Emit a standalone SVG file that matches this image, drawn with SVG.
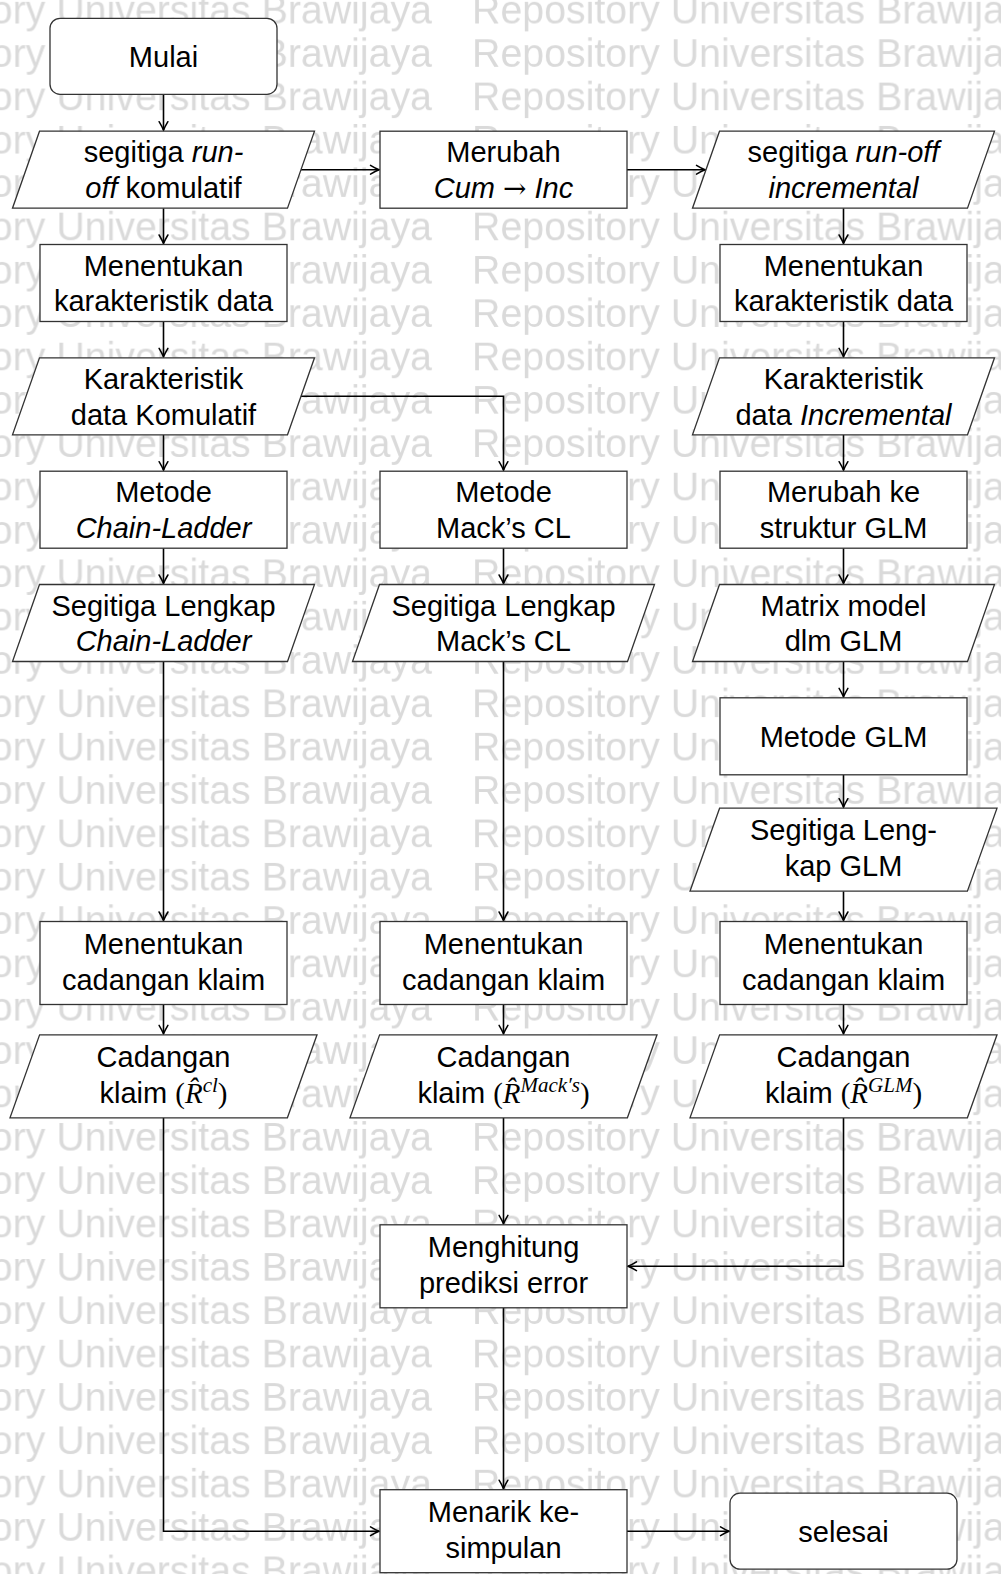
<svg xmlns="http://www.w3.org/2000/svg" width="1001" height="1574" viewBox="0 0 1001 1574">
<style>
.wm{font-family:"Liberation Sans",Arial,sans-serif;font-size:39.3px;fill:#dadada}
.t{font-family:"Liberation Sans",Arial,sans-serif;font-size:29px;fill:#000;text-anchor:middle}
.i{font-style:italic}
.m{font-family:"Liberation Serif","DejaVu Serif",serif}
.ar{font-family:"DejaVu Serif",serif;font-size:28px}
.mi{font-family:"Liberation Serif","DejaVu Serif",serif;font-style:italic}
.sup{font-size:21px}
.box{fill:#fff;stroke:#333;stroke-width:1.3}
.c{fill:none;stroke:#000;stroke-width:1.6;marker-end:url(#ah)}
</style>
<defs>
<pattern id="wm" patternUnits="userSpaceOnUse" x="-142.4" y="-9" width="614.4" height="43.35">
<text x="0" y="33" class="wm">Repository Universitas Brawijaya</text>
</pattern>
<marker id="ah" markerUnits="userSpaceOnUse" markerWidth="20" markerHeight="20" viewBox="0 0 20 20" refX="10" refY="10" orient="auto">
<path d="M1.5,5.6 Q6.5,8.6 10,10 Q6.5,11.4 1.5,14.4" fill="none" stroke="#000" stroke-width="1.5" stroke-linecap="round"/>
</marker>
</defs>
<rect width="1001" height="1574" fill="#fff"/>
<rect width="1001" height="1574" fill="url(#wm)"/>

<g id="connectors">
<path class="c" d="M163.5,94.3 V130.2"/>
<path class="c" d="M163.5,208.2 V243.5"/>
<path class="c" d="M163.5,321.5 V356.8"/>
<path class="c" d="M163.5,434.8 V470.2"/>
<path class="c" d="M163.5,548.2 V583.5"/>
<path class="c" d="M163.5,661.5 V920.5"/>
<path class="c" d="M163.5,1004.5 V1033.8"/>
<path class="c" d="M163.5,1117.8 V1531.2 H379"/>
<path class="c" d="M301,169.7 H379"/>
<path class="c" d="M627,169.7 H705"/>
<path class="c" d="M301,396.3 H503.5 V470.2"/>
<path class="c" d="M503.5,548.2 V583.5"/>
<path class="c" d="M503.5,661.5 V920.5"/>
<path class="c" d="M503.5,1004.5 V1033.8"/>
<path class="c" d="M503.5,1117.8 V1223.8"/>
<path class="c" d="M503.5,1307.8 V1488.7"/>
<path class="c" d="M627,1531.2 H729"/>
<path class="c" d="M843.5,208.2 V243.5"/>
<path class="c" d="M843.5,321.5 V356.8"/>
<path class="c" d="M843.5,434.8 V470.2"/>
<path class="c" d="M843.5,548.2 V583.5"/>
<path class="c" d="M843.5,661.5 V696.8"/>
<path class="c" d="M843.5,774.8 V807.2"/>
<path class="c" d="M843.5,891.2 V920.5"/>
<path class="c" d="M843.5,1004.5 V1033.8"/>
<path class="c" d="M843.5,1117.8 V1266.3 H628"/>
</g>

<g id="mulai"><rect class="box" x="50" y="18.3" width="227" height="76" rx="10"/><text class="t" x="163.5" y="66.8">Mulai</text></g>
<g id="c1r1"><polygon class="box" points="39.5,131.2 314.5,131.2 287.5,208.2 12.5,208.2"/><text class="t" x="163.5" y="162.2">segitiga <tspan class="i">run-</tspan></text><text class="t" x="163.5" y="197.9"><tspan class="i">off</tspan> komulatif</text></g>
<g id="c1r2"><rect class="box" x="40" y="244.5" width="247" height="77"/><text class="t" x="163.5" y="275.5">Menentukan</text><text class="t" x="163.5" y="311.2">karakteristik data</text></g>
<g id="c1r3"><polygon class="box" points="39.5,357.8 314.5,357.8 287.5,434.8 12.5,434.8"/><text class="t" x="163.5" y="388.8">Karakteristik</text><text class="t" x="163.5" y="424.5">data Komulatif</text></g>
<g id="c1r4"><rect class="box" x="40" y="471.2" width="247" height="77"/><text class="t" x="163.5" y="502.2">Metode</text><text class="t" x="163.5" y="537.9"><tspan class="i">Chain-Ladder</tspan></text></g>
<g id="c1r5"><polygon class="box" points="39.5,584.5 314.5,584.5 287.5,661.5 12.5,661.5"/><text class="t" x="163.5" y="615.5">Segitiga Lengkap</text><text class="t" x="163.5" y="651.2"><tspan class="i">Chain-Ladder</tspan></text></g>
<g id="c1r8"><rect class="box" x="40" y="921.5" width="247" height="83"/><text class="t" x="163.5" y="953.5">Menentukan</text><text class="t" x="163.5" y="989.5">cadangan klaim</text></g>
<g id="c1r9"><polygon class="box" points="39.6,1034.8 317,1034.8 287.4,1117.8 10,1117.8"/><text class="t" x="163.5" y="1066.8">Cadangan</text><text class="t" x="163.5" y="1102.8">klaim <tspan class="m">(</tspan><tspan class="mi">R̂</tspan><tspan class="mi sup" dy="-11">cl</tspan><tspan class="m" dy="11">)</tspan></text></g>

<g id="c2r1"><rect class="box" x="380" y="131.2" width="247" height="77"/><text class="t" x="503.5" y="162.2">Merubah</text><text class="t" x="503.5" y="197.9"><tspan class="i">Cum</tspan> <tspan class="ar">→</tspan> <tspan class="i">Inc</tspan></text></g>
<g id="c2r4"><rect class="box" x="380" y="471.2" width="247" height="77"/><text class="t" x="503.5" y="502.2">Metode</text><text class="t" x="503.5" y="537.9">Mack’s CL</text></g>
<g id="c2r5"><polygon class="box" points="379.5,584.5 654.5,584.5 627.5,661.5 352.5,661.5"/><text class="t" x="503.5" y="615.5">Segitiga Lengkap</text><text class="t" x="503.5" y="651.2">Mack’s CL</text></g>
<g id="c2r8"><rect class="box" x="380" y="921.5" width="247" height="83"/><text class="t" x="503.5" y="953.5">Menentukan</text><text class="t" x="503.5" y="989.5">cadangan klaim</text></g>
<g id="c2r9"><polygon class="box" points="379.6,1034.8 657,1034.8 627.4,1117.8 350,1117.8"/><text class="t" x="503.5" y="1066.8">Cadangan</text><text class="t" x="503.5" y="1102.8">klaim <tspan class="m">(</tspan><tspan class="mi">R̂</tspan><tspan class="mi sup" dy="-11">Mack′s</tspan><tspan class="m" dy="11">)</tspan></text></g>
<g id="menghitung"><rect class="box" x="380" y="1224.8" width="247" height="83"/><text class="t" x="503.5" y="1257">Menghitung</text><text class="t" x="503.5" y="1293">prediksi error</text></g>
<g id="menarik"><rect class="box" x="380" y="1489.7" width="247" height="83"/><text class="t" x="503.5" y="1521.7">Menarik ke-</text><text class="t" x="503.5" y="1557.7">simpulan</text></g>

<g id="c3r1"><polygon class="box" points="719.5,131.2 994.5,131.2 967.5,208.2 692.5,208.2"/><text class="t" x="843.5" y="162.2">segitiga <tspan class="i">run-off</tspan></text><text class="t" x="843.5" y="197.9"><tspan class="i">incremental</tspan></text></g>
<g id="c3r2"><rect class="box" x="720" y="244.5" width="247" height="77"/><text class="t" x="843.5" y="275.5">Menentukan</text><text class="t" x="843.5" y="311.2">karakteristik data</text></g>
<g id="c3r3"><polygon class="box" points="719.5,357.8 994.5,357.8 967.5,434.8 692.5,434.8"/><text class="t" x="843.5" y="388.8">Karakteristik</text><text class="t" x="843.5" y="424.5">data <tspan class="i">Incremental</tspan></text></g>
<g id="c3r4"><rect class="box" x="720" y="471.2" width="247" height="77"/><text class="t" x="843.5" y="502.2">Merubah ke</text><text class="t" x="843.5" y="537.9">struktur GLM</text></g>
<g id="c3r5"><polygon class="box" points="719.5,584.5 994.5,584.5 967.5,661.5 692.5,661.5"/><text class="t" x="843.5" y="615.5">Matrix model</text><text class="t" x="843.5" y="651.2">dlm GLM</text></g>
<g id="c3r6"><rect class="box" x="720" y="697.8" width="247" height="77"/><text class="t" x="843.5" y="746.8">Metode GLM</text></g>
<g id="c3r7"><polygon class="box" points="719.6,808.2 997,808.2 967.4,891.2 690,891.2"/><text class="t" x="843.5" y="840.2">Segitiga Leng-</text><text class="t" x="843.5" y="876.2">kap GLM</text></g>
<g id="c3r8"><rect class="box" x="720" y="921.5" width="247" height="83"/><text class="t" x="843.5" y="953.5">Menentukan</text><text class="t" x="843.5" y="989.5">cadangan klaim</text></g>
<g id="c3r9"><polygon class="box" points="719.6,1034.8 997,1034.8 967.4,1117.8 690,1117.8"/><text class="t" x="843.5" y="1066.8">Cadangan</text><text class="t" x="843.5" y="1102.8">klaim <tspan class="m">(</tspan><tspan class="mi">R̂</tspan><tspan class="mi sup" dy="-11">GLM</tspan><tspan class="m" dy="11">)</tspan></text></g>
<g id="selesai"><rect class="box" x="730" y="1493.2" width="227" height="76" rx="10"/><text class="t" x="843.5" y="1541.7">selesai</text></g>
</svg>
